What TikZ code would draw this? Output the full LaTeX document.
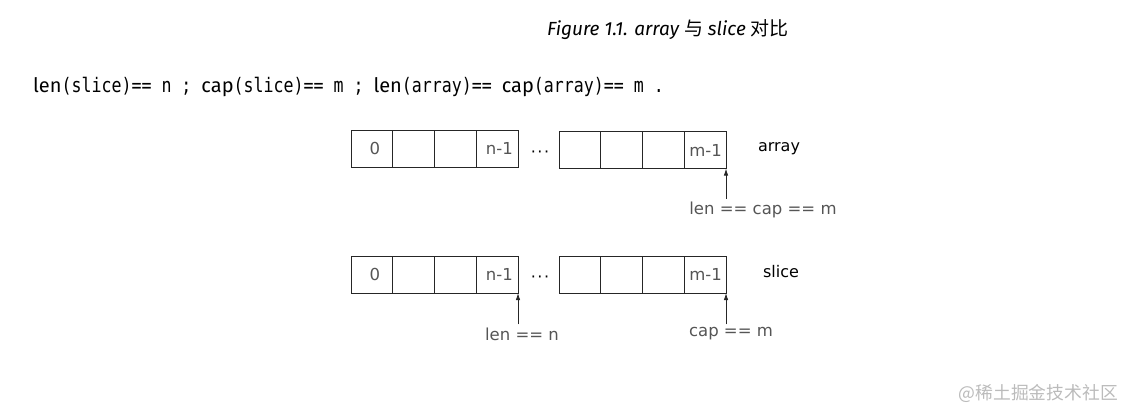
\documentclass[tikz,border=0pt]{standalone}
\usepackage{fontspec}
\setmainfont{DejaVu Sans}
\newfontfamily\cjk{Noto Sans CJK SC}
\newfontfamily\titlef{Fira Sans}
\newfontfamily\monof[FakeStretch=0.83]{DejaVu Sans Mono}
\usetikzlibrary{arrows.meta}
\definecolor{lblgray}{HTML}{555555}
\definecolor{wmgray}{HTML}{BBBBBB}
\tikzset{
  cell/.style={draw=black!85, line width=0.9pt, minimum width=41.75pt, minimum height=37pt, inner sep=0pt, outer sep=0pt, anchor=north west},
  celltxt/.style={text=lblgray, font=\fontsize{16.5}{18}\selectfont, inner sep=0pt, anchor=east},
  rowlbl/.style={font=\fontsize{16}{18}\selectfont, inner sep=0pt},
  ptrlbl/.style={text=lblgray, font=\fontsize{16.5}{18}\selectfont, inner sep=0pt},
  ptr/.style={-{Latex[length=7pt,width=4.5pt]}, line width=0.9pt, black!85},
  dotsn/.style={inner sep=0pt, font=\fontsize{16}{18}\selectfont},
}
\begin{document}
\begin{tikzpicture}[x=1pt,y=-1pt]
\useasboundingbox (0,0) rectangle (1134,418);
% title
\node[inner sep=0pt] (title) at (668,30) {\fontsize{19}{22}\selectfont\titlef\itshape Figure 1.1. array {\cjk 与} slice {\cjk 对比}};
% description line
\node[inner sep=0pt, anchor=west] (desc) at (33,87) {\fontsize{20}{22}\selectfont{\titlef len}{\monof (slice)==\ n\ ;\ }{\titlef cap}{\monof (slice)==\ m\ ;\ }{\titlef len}{\monof (array)==\ }{\titlef cap}{\monof (array)==\ m\ .}};
% array row
\foreach \i in {0,...,3} {\node[cell] (a\i) at ({351+41.75*\i},130) {};}
\foreach \i in {4,...,7} {\node[cell] (a\i) at ({559+41.75*(\i-4)},131.5) {};}
\node[celltxt, anchor=center] (a0t) at ([xshift=3pt]a0.center) {0};
\node[celltxt] (a3t) at ([xshift=-5pt]a3.east) {n-1};
\node[celltxt] (a7t) at ([xshift=-4pt]a7.east) {m-1};
\node[dotsn] (adots) at (540,154) {·\hspace{1.5pt}·\hspace{1.5pt}·};
\node[rowlbl] (alab) at (779,149) {array};
\node[ptrlbl] (aptr) at (763,210) {len == cap == m};
\coordinate (aptrs) at (aptr.north -| a7.south east);
\draw[ptr] ([yshift=3pt]aptrs) -- (a7.south east);
% slice row
\foreach \i in {0,...,3} {\node[cell] (s\i) at ({351+41.75*\i},256) {};}
\foreach \i in {4,...,7} {\node[cell] (s\i) at ({559+41.75*(\i-4)},256) {};}
\node[celltxt, anchor=center] (s0t) at ([xshift=3pt]s0.center) {0};
\node[celltxt] (s3t) at ([xshift=-5pt]s3.east) {n-1};
\node[celltxt] (s7t) at ([xshift=-4pt]s7.east) {m-1};
\node[dotsn] (sdots) at (540,279) {·\hspace{1.5pt}·\hspace{1.5pt}·};
\node[rowlbl] (slab) at (781,272) {slice};
\node[ptrlbl] (sptr1) at (522,334) {len == n};
\node[ptrlbl] (sptr2) at (731,334) {cap == m};
\coordinate (sp1) at (sptr1.north -| s3.south east);
\coordinate (sp2) at (sptr2.north -| s7.south east);
\draw[ptr] ([yshift=3pt]sp1) -- (s3.south east);
\draw[ptr] ([yshift=3pt]sp2) -- (s7.south east);
% watermark
\node[inner sep=0pt, text=wmgray, anchor=east] (wm) at (1118,393) {\fontsize{17.8}{20}\selectfont\cjk @稀土掘金技术社区};
\end{tikzpicture}
\end{document}
